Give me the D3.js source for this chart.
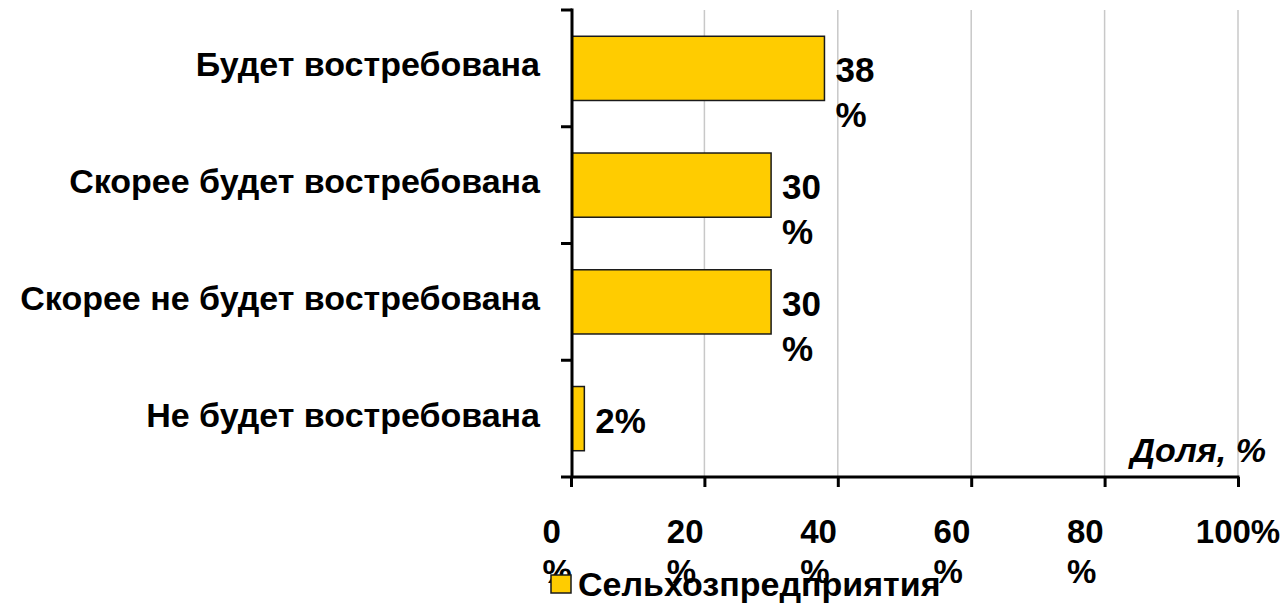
<!DOCTYPE html>
<html>
<head>
<meta charset="utf-8">
<script src="https://cdn.jsdelivr.net/npm/d3@7"></script>
<style>
  html, body { margin: 0; padding: 0; background: #fff; }
  svg { display: block; }
  text { font-family: "Liberation Sans", Arial, sans-serif; font-weight: bold; fill: #000; }
</style>
</head>
<body>
<svg id="chart" width="1287" height="607"></svg>
<script>
const categories = ["Будет востребована", "Скорее будет востребована", "Скорее не будет востребована", "Не будет востребована"];
const values = [38, 30, 30, 2];
const valueLabels = ["38 %", "30 %", "30 %", "2%"];
const tickValues = [0, 20, 40, 60, 80, 100];
const tickLabels = ["0 %", "20 %", "40 %", "60 %", "80 %", "100%"];
const seriesName = "Сельхозпредприятия";
const axisTitle = "Доля, %";

(function () {
const svg = d3.select("#chart");
const pL = 571, pR = 1238, pT = 10, pB = 477;
const FS_CAT = 34, FS_VAL = 35, FS_TICK = 33, FS_LEG = 34, FS_TITLE = 34;

const x = d3.scaleLinear().domain([0, 100]).range([pL, pR]);
const y = d3.scaleBand().domain(categories).range([pT, pB]).paddingInner(0.45).paddingOuter(0.225);

// gridlines
svg.append("g").selectAll("line").data(tickValues.slice(1)).join("line")
  .attr("x1", d => x(d)).attr("x2", d => x(d))
  .attr("y1", pT).attr("y2", pB)
  .attr("stroke", "#c8c8c8").attr("stroke-width", 1.5);

// bars
svg.append("g").selectAll("rect").data(values).join("rect")
  .attr("x", x(0) + 1)
  .attr("y", (d, i) => y(categories[i]))
  .attr("width", d => x(d) - x(0) - 1)
  .attr("height", y.bandwidth())
  .attr("fill", "#FFCC00").attr("stroke", "#1a1a1a").attr("stroke-width", 1.5);

// x axis (ticks via d3 axis)
const xAxis = svg.append("g").attr("transform", `translate(0,${pB})`)
  .call(d3.axisBottom(x).tickValues(tickValues).tickSize(10).tickFormat(""));
xAxis.select(".domain").remove();
xAxis.selectAll(".tick line").attr("stroke", "#000").attr("stroke-width", 3);
svg.append("line").attr("x1", pL - 10).attr("x2", pR + 1.5).attr("y1", pB).attr("y2", pB)
  .attr("stroke", "#000").attr("stroke-width", 3);

// y axis
const step = y.step();
const boundaries = categories.map(c => y(c) - step * y.paddingInner() / 2);
svg.append("line").attr("x1", pL + 1).attr("x2", pL + 1).attr("y1", pT - 1.5).attr("y2", pB)
  .attr("stroke", "#000").attr("stroke-width", 3);
svg.append("g").selectAll("line").data(boundaries).join("line")
  .attr("x1", pL - 10).attr("x2", pL + 1).attr("y1", d => d).attr("y2", d => d)
  .attr("stroke", "#000").attr("stroke-width", 3);

// category labels
svg.append("g").selectAll("text").data(categories).join("text")
  .attr("x", 540)
  .attr("y", d => y(d) + y.bandwidth() / 2 + 8)
  .attr("text-anchor", "end")
  .attr("font-size", FS_CAT)
  .text(d => d);

// value labels
svg.append("g").selectAll("text").data(values).join("text")
  .attr("font-size", FS_VAL)
  .attr("x", d => x(d) + 11)
  .attr("y", (d, i) => y(categories[i]) + y.bandwidth() / 2 + 14)
  .each(function (d, i) {
    const parts = valueLabels[i].split(" ");
    const t = d3.select(this);
    parts.forEach((p, k) => {
      t.append("tspan").attr("x", x(d) + 11).attr("dy", k === 0 ? 0 : 45).text(p);
    });
  });

// tick labels (wrapped like Excel)
const tl = svg.append("g");
tickValues.forEach((v, i) => {
  const full = tl.append("text").attr("font-size", FS_TICK).text(tickLabels[i]);
  const w = full.node().getComputedTextLength();
  full.remove();
  const parts = tickLabels[i].split(" ");
  if (parts.length === 1) {
    tl.append("text").attr("font-size", FS_TICK).attr("x", x(v)).attr("y", 543)
      .attr("text-anchor", "middle").text(parts[0]);
  } else {
    const sx = x(v) - w / 2;
    parts.forEach((p, k) => {
      tl.append("text").attr("font-size", FS_TICK).attr("x", sx).attr("y", 543 + k * 40).text(p);
    });
  }
});

// axis title
svg.append("text").attr("x", 1266).attr("y", 462).attr("text-anchor", "end")
  .attr("font-size", FS_TITLE).attr("font-style", "italic").text(axisTitle);

// legend
svg.append("rect").attr("x", 551).attr("y", 575).attr("width", 20).attr("height", 18)
  .attr("fill", "#FFCC00").attr("stroke", "#1a1a1a").attr("stroke-width", 1.5);
svg.append("text").attr("x", 578).attr("y", 596).attr("font-size", FS_LEG).text(seriesName);
})();
</script>
</body>
</html>
